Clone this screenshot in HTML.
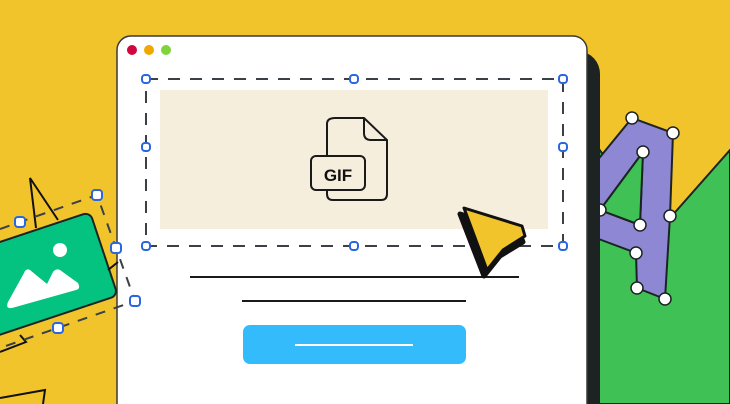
<!DOCTYPE html>
<html><head><meta charset="utf-8"><style>
html,body{margin:0;padding:0;background:#f2c42c;width:730px;height:404px;overflow:hidden;}
svg{display:block;}
</style></head><body>
<svg width="730" height="404" viewBox="0 0 730 404" xmlns="http://www.w3.org/2000/svg">
<rect width="730" height="404" fill="#f2c42c"/>
<polygon points="596,145 642,208 670,218 730,150 730,404 596,404" fill="#3fc155" stroke="#1c2322" stroke-width="2"/>
<path fill-rule="evenodd" d="M596,162 L632,118 L673,133 L670,216 L665,299 L637,288 L636,253 L596,238 Z M643,152 L640,225 L600,210 Z" fill="#8e87d3" stroke="#1c2322" stroke-width="2" stroke-linejoin="round"/>
<polygon points="643,152 640,225 600,210" fill="#3fc155"/>
<polyline points="643,152 640,225 600,210 643,152" fill="none" stroke="#1c2322" stroke-width="2"/>
<g fill="#fff" stroke="#1c2322" stroke-width="1.5">
<circle cx="632" cy="118" r="6"/><circle cx="673" cy="133" r="6"/><circle cx="643" cy="152" r="6"/>
<circle cx="670" cy="216" r="6"/><circle cx="640" cy="225" r="6"/><circle cx="636" cy="253" r="6"/>
<circle cx="637" cy="288" r="6"/><circle cx="665" cy="299" r="6"/><circle cx="600" cy="210" r="6"/>
</g>
<rect x="560" y="52" width="40" height="380" rx="22" fill="#1c2322"/>
<rect x="117" y="36" width="470" height="400" rx="14" fill="#fff" stroke="#3a3a3a" stroke-width="1.5"/>
<circle cx="132" cy="50" r="5" fill="#d0083f"/>
<circle cx="149" cy="50" r="5" fill="#efa800"/>
<circle cx="166" cy="50" r="5" fill="#7ed43c"/>
<rect x="160" y="90" width="388" height="139" fill="#f6eedd"/>
<rect x="146" y="79" width="417" height="167" fill="none" stroke="#3a4046" stroke-width="2" stroke-dasharray="12,10"/>
<g fill="#fff" stroke="#2a66e0" stroke-width="2">
<rect x="142" y="75" width="8" height="8" rx="3"/><rect x="350" y="75" width="8" height="8" rx="3"/><rect x="559" y="75" width="8" height="8" rx="3"/>
<rect x="142" y="143" width="8" height="8" rx="3"/><rect x="559" y="143" width="8" height="8" rx="3"/>
<rect x="142" y="242" width="8" height="8" rx="3"/><rect x="350" y="242" width="8" height="8" rx="3"/><rect x="559" y="242" width="8" height="8" rx="3"/>
</g>
<path d="M335,118 H364 L387,140 V194 Q387,200 381,200 H333 Q327,200 327,194 V124 Q327,118 335,118 Z" fill="none" stroke="#1a1a1a" stroke-width="2"/>
<path d="M364,118 V133 Q364,140 371,140 H387" fill="none" stroke="#1a1a1a" stroke-width="2"/>
<rect x="311" y="156" width="54" height="34" rx="5" fill="#f6eedd" stroke="#1a1a1a" stroke-width="2"/>
<text x="338" y="181" font-family="Liberation Sans, sans-serif" font-weight="bold" font-size="17" text-anchor="middle" fill="#111">GIF</text>
<line x1="190" y1="277" x2="519" y2="277" stroke="#1a1a1a" stroke-width="2"/>
<line x1="242" y1="301" x2="466" y2="301" stroke="#1a1a1a" stroke-width="2"/>
<!-- cursor -->
<polygon points="460,214 519,232 523,242 500,256 484,276" fill="#111" stroke="#111" stroke-width="5" stroke-linejoin="round"/>
<polygon points="464,208 522,226 525,236 503,250 487,270" fill="#f2c42c" stroke="#111" stroke-width="3" stroke-linejoin="round"/>
<rect x="243" y="325" width="223" height="39" rx="7" fill="#33bbfc"/>
<line x1="295" y1="345" x2="413" y2="345" stroke="#fff" stroke-width="2"/>
<polyline points="36,228 30,178 58,220" fill="none" stroke="#111" stroke-width="2"/>
<polyline points="0,352 26,342 20,335" fill="none" stroke="#111" stroke-width="2"/>
<polyline points="0,398 45,390 43,404" fill="none" stroke="#111" stroke-width="2"/>
<g transform="rotate(-18.4 90 212)">
<rect x="-50" y="212" width="140" height="88" rx="7" fill="#04c27f" stroke="#1c2322" stroke-width="2"/>
</g>
<circle cx="60" cy="250" r="7" fill="#fff"/>
<path d="M8,302 L24,273 Q26,268 30,270 L47,284 L53,272 Q56,268 60,270 L78,283 Q81,289 76,290 L12,308 Q5,309 8,302 Z" fill="#fff"/>
<line x1="108" y1="270" x2="118" y2="262" stroke="#111" stroke-width="2"/>
<polyline points="0,229 97,195 135,301 0,348" fill="none" stroke="#3a4046" stroke-width="2" stroke-dasharray="10,9"/>
<g fill="#fff" stroke="#2a66e0" stroke-width="2">
<rect x="15" y="217" width="10" height="10" rx="3"/><rect x="92" y="190" width="10" height="10" rx="3"/>
<rect x="111" y="243" width="10" height="10" rx="3"/><rect x="130" y="296" width="10" height="10" rx="3"/>
<rect x="53" y="323" width="10" height="10" rx="3"/>
</g>
</svg>
</body></html>
